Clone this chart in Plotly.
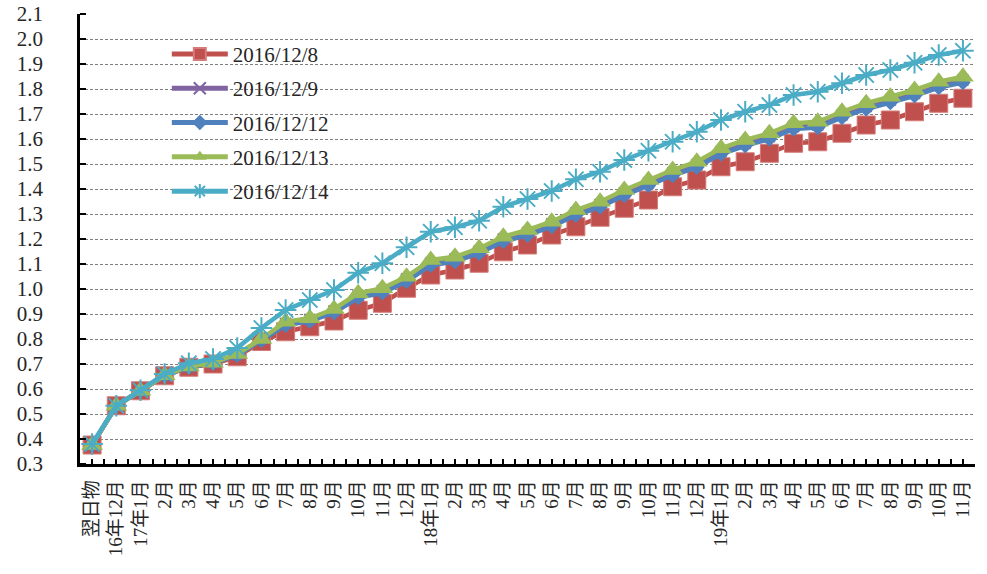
import plotly.graph_objects as go

categories = ["翌日物", "16年12月", "17年1月", "2月", "3月", "4月", "5月", "6月", "7月", "8月",
              "9月", "10月", "11月", "12月", "18年1月", "2月", "3月", "4月", "5月", "6月",
              "7月", "8月", "9月", "10月", "11月", "12月", "19年1月", "2月", "3月", "4月",
              "5月", "6月", "7月", "8月", "9月", "10月", "11月"]

s_1208 = [0.376, 0.533, 0.593, 0.653, 0.687, 0.700, 0.729, 0.790, 0.829, 0.849,
          0.872, 0.915, 0.943, 1.003, 1.056, 1.076, 1.103, 1.149, 1.176, 1.216,
          1.249, 1.287, 1.323, 1.356, 1.409, 1.436, 1.489, 1.509, 1.543, 1.583,
          1.589, 1.623, 1.656, 1.676, 1.709, 1.743, 1.763]
s_1209 = [0.376, 0.533, 0.593, 0.654, 0.688, 0.704, 0.737, 0.800, 0.862, 0.878,
          0.912, 0.973, 0.993, 1.040, 1.104, 1.120, 1.152, 1.200, 1.225, 1.260,
          1.305, 1.338, 1.384, 1.424, 1.464, 1.497, 1.550, 1.583, 1.610, 1.650,
          1.656, 1.696, 1.730, 1.756, 1.783, 1.816, 1.836]
s_1212 = [0.376, 0.533, 0.593, 0.654, 0.688, 0.703, 0.735, 0.795, 0.855, 0.872,
          0.905, 0.965, 0.985, 1.030, 1.095, 1.110, 1.143, 1.190, 1.215, 1.250,
          1.295, 1.328, 1.374, 1.414, 1.454, 1.487, 1.540, 1.573, 1.600, 1.640,
          1.646, 1.686, 1.720, 1.746, 1.773, 1.806, 1.826]
s_1213 = [0.376, 0.533, 0.593, 0.655, 0.690, 0.705, 0.740, 0.800, 0.869, 0.883,
          0.920, 0.983, 1.003, 1.049, 1.116, 1.129, 1.163, 1.209, 1.236, 1.269,
          1.316, 1.349, 1.396, 1.436, 1.476, 1.509, 1.563, 1.596, 1.623, 1.663,
          1.669, 1.709, 1.743, 1.769, 1.796, 1.829, 1.849]
s_1214 = [0.380, 0.533, 0.595, 0.660, 0.703, 0.720, 0.764, 0.844, 0.916, 0.956,
          0.996, 1.065, 1.103, 1.167, 1.229, 1.247, 1.273, 1.329, 1.360, 1.392,
          1.439, 1.469, 1.516, 1.553, 1.589, 1.629, 1.676, 1.709, 1.736, 1.776,
          1.789, 1.823, 1.856, 1.876, 1.905, 1.936, 1.953]

series_names = ["2016/12/8", "2016/12/9", "2016/12/12", "2016/12/13", "2016/12/14"]
series_values = [s_1208, s_1209, s_1212, s_1213, s_1214]

colors = ["#C0504D", "#8064A2", "#4F81BD", "#9BBB59", "#4BACC6"]
markers = [
    dict(symbol="square", size=18, line=dict(width=1, color="#D47C79")),
    dict(symbol="x-thin-open", size=11, line=dict(width=2, color="#8064A2")),
    dict(symbol="diamond", size=12, line=dict(width=0)),
    dict(symbol="triangle-up", size=19, line=dict(width=0)),
    dict(symbol="asterisk-open", size=18, line=dict(width=2, color="#4BACC6")),
]

xpos = list(range(len(categories)))

fig = go.Figure()
for name, vals, col, mk in zip(series_names, series_values, colors, markers):
    m = dict(mk)
    m["color"] = col
    fig.add_trace(go.Scatter(
        x=xpos, y=vals, name=name, mode="lines+markers",
        line=dict(color=col, width=4.5),
        marker=m, legendgroup=name,
    ))

font_main = "Liberation Serif, Noto Sans CJK SC, serif"

fig.update_layout(
    width=987, height=574,
    margin=dict(l=80, r=12, t=14, b=110, autoexpand=False),
    plot_bgcolor="white", paper_bgcolor="white",
    font=dict(family=font_main, size=18, color="#262626"),
    showlegend=True,
    legend=dict(
        x=0.097, y=0.956, xanchor="left", yanchor="top",
        bgcolor="rgba(0,0,0,0)", borderwidth=0,
        font=dict(family=font_main, size=21, color="#262626"),
        traceorder="grouped", tracegroupgap=4,
        itemwidth=56, itemsizing="constant",
    ),
    shapes=[dict(type="rect", xref="paper", yref="paper",
                 x0=0.028, x1=0.325, y0=0.585, y1=0.975,
                 fillcolor="white", line=dict(width=0), layer="between")],
)

fig.update_yaxes(
    range=[0.3, 2.1], tickmode="linear", tick0=0.3, dtick=0.1, tickformat=".1f",
    showline=True, linewidth=2.5, linecolor="black",
    ticks="outside", ticklen=30, tickwidth=1.5, tickcolor="rgba(0,0,0,0)",
    showgrid=True, gridcolor="#7f7f7f", gridwidth=1, griddash="3px,2px",
    zeroline=False, tickfont=dict(size=21), automargin=False,
    minor=dict(ticks="inside", ticklen=6, tickwidth=1.5, tickcolor="black",
               tickmode="linear", tick0=0.3, dtick=0.1, showgrid=False),
)
fig.update_xaxes(
    range=[-0.5, len(categories) - 0.5],
    tickmode="array", tickvals=xpos, ticktext=categories, tickangle=-90,
    showline=True, linewidth=2.5, linecolor="black",
    ticks="inside", ticklen=5, tickwidth=1.5, tickcolor="black",
    minor=dict(ticks="inside", ticklen=5, tickwidth=1.5, tickcolor="black",
               tickmode="linear", tick0=-0.5, dtick=1, showgrid=False),
    showgrid=False, zeroline=False, tickfont=dict(size=19), automargin=False,
    ticklabelstandoff=6,
)

fig.write_html("out.html", config={"displayModeBar": False},
               post_script="document.body.style.margin='0';")
